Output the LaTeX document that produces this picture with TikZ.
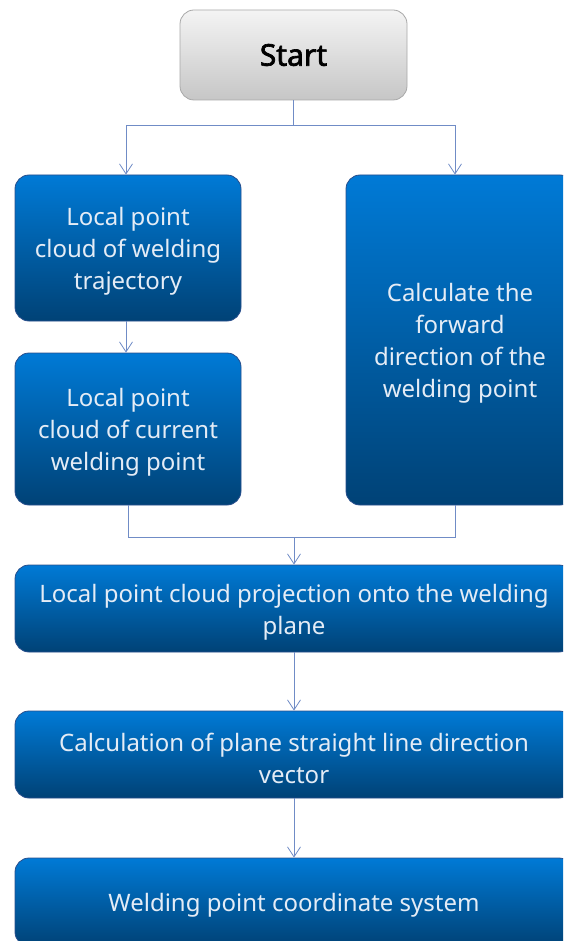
\documentclass[tikz,border=0pt]{standalone}
\usepackage{fontspec}
\setmainfont{Noto Sans}
\newfontfamily\startfont[FakeBold=2.2]{Noto Sans}
\usetikzlibrary{arrows.meta}
\definecolor{boxtop}{RGB}{0,122,214}
\definecolor{boxbot}{RGB}{0,66,118}
\definecolor{boxedge}{RGB}{40,78,140}
\definecolor{linkc}{RGB}{112,140,198}
\definecolor{txtc}{RGB}{228,236,246}
\definecolor{greytop}{RGB}{244,244,244}
\definecolor{greybot}{RGB}{198,198,198}
\definecolor{greyedge}{RGB}{168,168,168}
\begin{document}
\begin{tikzpicture}[x=1pt,y=-1pt,
  bluebox/.style={draw=boxedge, line width=0.8pt, rounded corners=14pt,
    top color=boxtop, bottom color=boxbot, inner sep=0pt},
  boxtext/.style={text=txtc, align=center, inner sep=0pt, yshift=-3.5pt,
    font=\fontsize{24}{32}\selectfont},
  startbox/.style={draw=greyedge, line width=0.8pt, rounded corners=14pt,
    top color=greytop, bottom color=greybot, text=black,
    font=\fontsize{30}{36}\selectfont\startfont, inner sep=0pt,
    minimum width=227pt, minimum height=90pt},
  link/.style={draw=linkc, line width=0.8pt},
  arr/.style={link, -{Straight Barb[length=10pt,width=13pt,line width=0.8pt]}}]
\useasboundingbox (0,0) rectangle (563,941);
\clip (0,0) rectangle (563,941);

% process boxes; each caption is a centred label lowered a little
\node[startbox] (start) at (293.5,55) {Start};
\node[bluebox, minimum width=226pt, minimum height=146pt,
  label={[boxtext]center:{Local point\\cloud of welding\\trajectory}}] (traj) at (128,248) {};
\node[bluebox, minimum width=226pt, minimum height=152pt,
  label={[boxtext]center:{Local point\\cloud of current\\welding point}}] (curr) at (128,429) {};
\node[bluebox, minimum width=228pt, minimum height=330pt,
  label={[boxtext]center:{Calculate the\\forward\\direction of the\\welding point}}] (fwd) at (460,340) {};
\node[bluebox, minimum width=558pt, minimum height=87pt,
  label={[boxtext]center:{Local point cloud projection onto the welding\\plane}}] (proj) at (294,608.5) {};
\node[bluebox, minimum width=558pt, minimum height=87pt,
  label={[boxtext]center:{Calculation of plane straight line direction\\vector}}] (dirv) at (294,754.5) {};
\node[bluebox, minimum width=558pt, minimum height=88pt,
  label={[boxtext]center:{Welding point coordinate system}}] (wcs) at (294,902) {};

% connectors
\coordinate (split) at (start.south |- 0,125);
\draw[link] (start.south) -- (split);
\draw[arr] (split) -| ([xshift=-2pt]traj.north);
\draw[arr] (split) -| ([xshift=-5pt]fwd.north);
\draw[arr] ([xshift=-2pt]traj.south) -- ([xshift=-2pt]curr.north);
\coordinate (merge) at (proj.north |- 0,537);
\draw[link] (curr.south) |- (merge);
\draw[link] ([xshift=-5pt]fwd.south) |- (merge);
\draw[arr] (merge) -- (proj.north);
\draw[arr] (proj.south) -- (dirv.north);
\draw[arr] (dirv.south) -- (wcs.north);
\end{tikzpicture}
\end{document}
